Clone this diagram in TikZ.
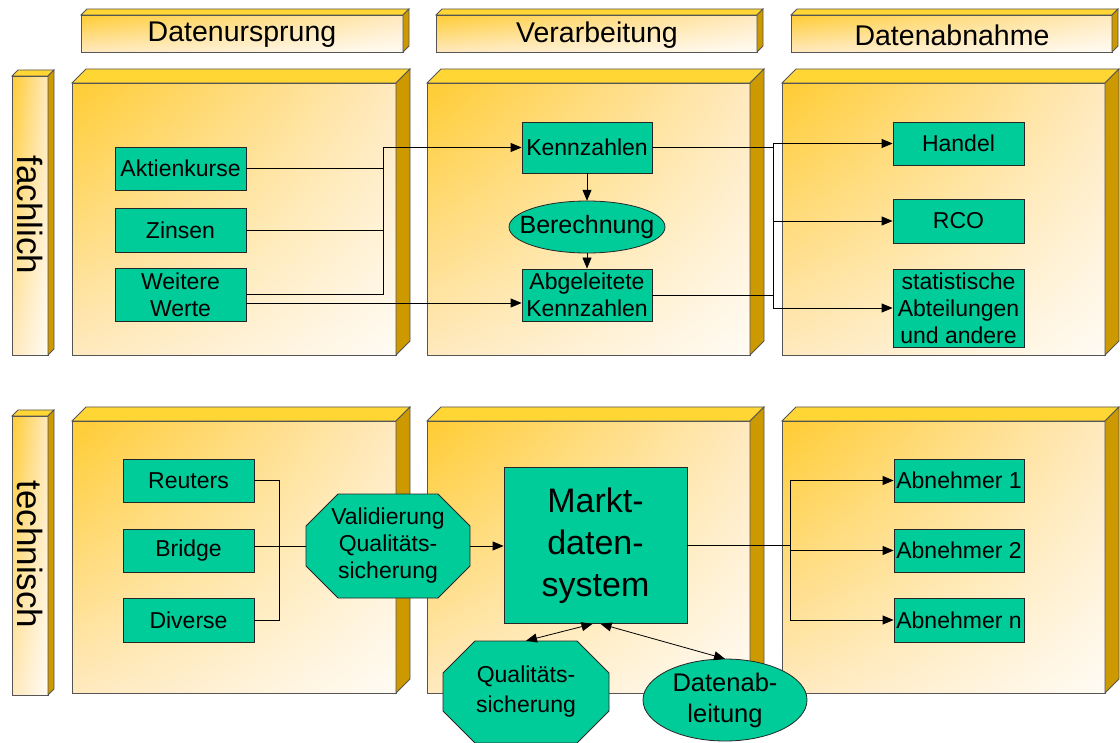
\documentclass[tikz,border=0pt]{standalone}
\usepackage{fontspec}
\setmainfont{Liberation Sans}
\usetikzlibrary{arrows.meta,shapes.geometric,shadings}
\definecolor{gold}{HTML}{FFCC33}
\definecolor{goldtop}{HTML}{FFD633}
\definecolor{golddark}{HTML}{CC9900}
\definecolor{cream}{HTML}{FFFBF4}
\definecolor{creamA}{HTML}{FFE9BE}
\definecolor{grn}{HTML}{00CC99}
\definecolor{edge}{HTML}{555555}

\newcommand\boxthreed[5]{%
 \shade[upper left=gold, upper right=creamA, lower left=creamA, lower right=cream] (#1,#2) rectangle (#3,#4);
 \draw[edge, line width=0.8pt] (#1,#2) rectangle (#3,#4);
 \filldraw[fill=goldtop, draw=edge, line width=0.8pt] (#1,#2) -- ({#1+#5},{#2-#5}) -- ({#3+#5},{#2-#5}) -- (#3,#2) -- cycle;
 \filldraw[fill=golddark, draw=edge, line width=0.8pt] (#3,#2) -- ({#3+#5},{#2-#5}) -- ({#3+#5},{#4-#5}) -- (#3,#4) -- cycle;
}
% name, cx, cy, half width, half height, chamfer, text
\newcommand\octnode[7]{%
 \filldraw[fill=grn, draw=black!85, line width=0.8pt]
  ({#2-#4+#6},{#3-#5}) -- ({#2+#4-#6},{#3-#5}) -- ({#2+#4},{#3-#5+#6}) -- ({#2+#4},{#3+#5-#6})
  -- ({#2+#4-#6},{#3+#5}) -- ({#2-#4+#6},{#3+#5}) -- ({#2-#4},{#3+#5-#6}) -- ({#2-#4},{#3-#5+#6}) -- cycle;
 \node[txt, minimum width={2*#4*1pt}, minimum height={2*#5*1pt}] (#1) at (#2,#3) {#7};
}
% name, cx, cy, x radius, y radius, font, text
\newcommand\ellnode[7]{%
 \filldraw[fill=grn, draw=black!85, line width=0.8pt] (#2,#3) ellipse [x radius=#4, y radius=#5];
 \node[txt, font=#6, minimum width={2*#4*1pt}, minimum height={2*#5*1pt}] (#1) at (#2,#3) {#7};
}

\tikzset{
 txt/.style={inner sep=0pt, align=center, font=\fontsize{23}{27}\selectfont},
 gbox/.style={txt, draw=black!85, fill=grn, line width=0.8pt},
 conn/.style={line width=0.8pt, black},
 arr/.style={conn, -{Triangle[length=11pt,width=9pt]}},
 arrtwo/.style={conn, {Triangle[length=11pt,width=9pt]}-{Triangle[length=11pt,width=9pt]}},
 headtxt/.style={inner sep=0pt, font=\fontsize{28.5}{28.5}\selectfont},
 sidetxt/.style={inner sep=0pt, rotate=-90, font=\fontsize{35}{35}\selectfont},
}

\begin{document}
\begin{tikzpicture}[x=1pt, y=-1pt]
\useasboundingbox (0,0) rectangle (1120,743);

% headers
\boxthreed{81}{15}{403}{52}{6}
\boxthreed{436}{15}{757}{52}{6}
\boxthreed{791}{15}{1112}{52}{6}
\node[headtxt] (h1) at (242,35) {Datenursprung};
\node[headtxt] (h2) at (597,35) {Verarbeitung};
\node[headtxt] (h3) at (952,35) {Datenabnahme};

% side labels
\boxthreed{12}{76}{48}{355}{6}
\boxthreed{12}{416}{48}{695}{6}
\node[sidetxt] (s1) at (30,215) {fachlich};
\node[sidetxt] (s2) at (30,554.5) {technisch};

% big boxes
\boxthreed{72}{83}{396}{355}{14}
\boxthreed{427}{83}{750}{355}{14}
\boxthreed{782}{83}{1105}{355}{14}
\boxthreed{72}{421}{396}{693}{14}
\boxthreed{427}{421}{750}{693}{14}
\boxthreed{782}{421}{1105}{693}{14}

% ---------- row 1 nodes
\node[gbox, minimum width=131pt, minimum height=43pt] (akt) at (180.5,168.5) {Aktienkurse};
\node[gbox, minimum width=131pt, minimum height=44pt] (zin) at (180.5,230) {Zinsen};
\node[gbox, minimum width=131pt, minimum height=53pt] (wei) at (180.5,294.5) {Weitere\\Werte};
\node[gbox, minimum width=130pt, minimum height=51pt] (ken) at (587,147.5) {Kennzahlen};
\ellnode{ber}{587}{227}{78}{26}{\fontsize{25}{27}\selectfont}{Berechnung}
\node[gbox, minimum width=130pt, minimum height=52pt] (abg) at (587,295) {Abgeleitete\\Kennzahlen};
\node[gbox, minimum width=131pt, minimum height=43pt] (han) at (958.5,143.5) {Handel};
\node[gbox, minimum width=131pt, minimum height=44pt] (rco) at (958.5,221) {RCO};
\node[gbox, minimum width=131pt, minimum height=78pt] (sta) at (958.5,308) {statistische\\Abteilungen\\und andere};

\coordinate (j1) at (383,147.5);
\coordinate (j2a) at (773,143.5);
\coordinate (j2b) at (773,308);

\draw[conn] (akt.east) -- (akt.east -| j1);
\draw[conn] (zin.east) -- (zin.east -| j1);
\draw[arr] (wei.east) -| (j1) -- (ken.west);
\draw[arr] ([yshift=-8.5pt]wei.east) -- ([yshift=-8.5pt]wei.east -| abg.west);
\draw[arr] (ken.south) -- (ber.north);
\draw[arr] (ber.south) -- (abg.north);
\draw[conn] (ken.east) -- (ken.east -| j2a);
\draw[conn] (abg.east) -- (abg.east -| j2a);
\draw[conn] (j2a) -- (j2b);
\draw[arr] (j2a) -- (han.west);
\draw[arr] (rco.west -| j2a) -- (rco.west);
\draw[arr] (j2b) -- (sta.west);

% ---------- row 2 nodes
\node[gbox, minimum width=131pt, minimum height=43pt] (reu) at (188.5,480.5) {Reuters};
\node[gbox, minimum width=131pt, minimum height=43pt] (bri) at (188.5,550.5) {Bridge};
\node[gbox, minimum width=131pt, minimum height=44pt] (div) at (188.5,620) {Diverse};
\octnode{val}{388}{546}{82}{52}{32}{Validierung\\Qualitäts-\\sicherung}
\node[gbox, minimum width=183pt, minimum height=156pt, font=\fontsize{34}{42}\selectfont] (mds) at (595.5,545.5) {Markt-\\daten-\\system};
\node[gbox, minimum width=130pt, minimum height=43pt] (ab1) at (959,480.5) {Abnehmer 1};
\node[gbox, minimum width=130pt, minimum height=43pt] (ab2) at (959,550.5) {Abnehmer 2};
\node[gbox, minimum width=130pt, minimum height=44pt] (abn) at (959,620) {Abnehmer n};

\coordinate (j3a) at (279,480.5);
\coordinate (j3b) at (279,620);
\coordinate (j4a) at (790,480.5);
\coordinate (j4b) at (790,620);

\draw[conn] (reu.east) -- (j3a) -- (j3b) -- (div.east);
\draw[conn] (bri.east |- val.west) -- (val.west);
\draw[arr] (val.east) -- (val.east -| mds.west);
\draw[conn] (mds.east) -- (mds.east -| j4a);
\draw[conn] (j4a) -- (j4b);
\draw[arr] (j4a) -- (ab1.west);
\draw[arr] (ab2.west -| j4a) -- (ab2.west);
\draw[arr] (j4b) -- (abn.west);

\octnode{qua}{526}{692}{83}{51}{32}{Qualitäts-\\[3pt]sicherung}
\ellnode{dab}{725}{700}{82}{41}{\fontsize{25.5}{27}\selectfont}{Datenab-\\[4pt]leitung}

\draw[arrtwo] (qua.north) -- ([xshift=-3pt]mds.south);
\draw[arrtwo] ([xshift=5pt]mds.south) -- (dab.north);
\end{tikzpicture}
\end{document}
